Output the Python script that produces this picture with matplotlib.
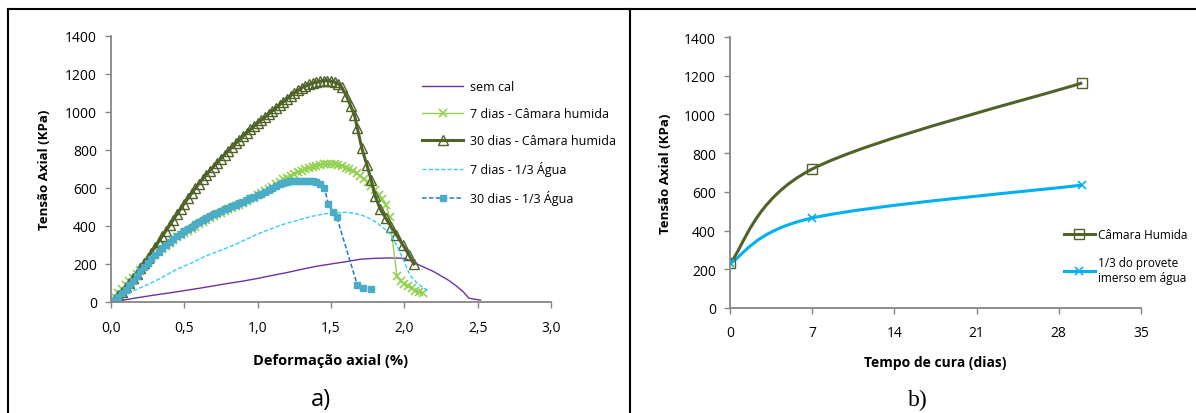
import matplotlib
matplotlib.use("Agg")
import matplotlib.pyplot as plt
import numpy as np
from matplotlib.lines import Line2D
from matplotlib.path import Path
from matplotlib.patches import PathPatch

plt.rcParams['font.family'] = ['Open Sans', 'DejaVu Sans']

# ---------------- a) tensão x deformação ----------------
sem_cal_x = [0, 0.1, 0.2, 0.3, 0.4, 0.5, 0.6, 0.7, 0.8, 0.9, 1.0, 1.1, 1.2, 1.3, 1.4,
             1.5, 1.6, 1.7, 1.8, 1.9, 2.0, 2.05, 2.1, 2.2, 2.3, 2.35, 2.4, 2.44, 2.5, 2.52]
sem_cal_y = [0, 12, 25, 37, 48, 60, 72, 85, 98, 110, 124, 140, 155, 172, 188,
             200, 212, 225, 230, 232, 230, 215, 195, 160, 115, 87, 55, 20, 12, 10]

ch7_x = [0.0, 0.025, 0.05, 0.075, 0.1, 0.125, 0.15, 0.175, 0.2, 0.225, 0.25, 0.275, 0.3,
         0.325, 0.35, 0.375, 0.4, 0.425, 0.45, 0.475, 0.5, 0.525, 0.55, 0.575, 0.6, 0.625,
         0.65, 0.675, 0.7, 0.725, 0.75, 0.775, 0.8, 0.825, 0.85, 0.875, 0.9, 0.925, 0.95,
         0.975, 1.0, 1.025, 1.05, 1.075, 1.1, 1.125, 1.15, 1.175, 1.2, 1.225, 1.25, 1.275,
         1.3, 1.325, 1.35, 1.375, 1.4, 1.425, 1.45, 1.475, 1.5, 1.525, 1.55, 1.575, 1.6,
         1.625, 1.65, 1.675, 1.7, 1.725, 1.75, 1.775, 1.8, 1.825, 1.85, 1.875, 1.9,
         1.95, 1.975, 2.0, 2.025, 2.05, 2.075, 2.1, 2.125]
ch7_y = [0, 25, 48, 70, 90, 108, 127, 145, 168, 186, 205, 224, 245,
         263, 280, 296, 311, 326, 340, 353, 364, 375, 385, 396, 408, 420,
         432, 443, 453, 462, 471, 479, 487, 495, 503, 511, 521, 530, 540,
         550, 562, 572, 582, 593, 605, 620, 633, 645, 655, 665, 673, 683,
         692, 700, 707, 713, 718, 722, 725, 726, 726, 724, 720, 714, 706,
         698, 689, 678, 665, 650, 633, 612, 590, 565, 540, 510, 445,
         135, 110, 95, 85, 72, 60, 52, 45]

ch30_x = [0.0, 0.025, 0.05, 0.075, 0.1, 0.125, 0.15, 0.175, 0.2, 0.225, 0.25, 0.275, 0.3,
          0.325, 0.35, 0.375, 0.4, 0.425, 0.45, 0.475, 0.5, 0.525, 0.55, 0.575, 0.6, 0.625,
          0.65, 0.675, 0.7, 0.725, 0.75, 0.775, 0.8, 0.825, 0.85, 0.875, 0.9, 0.925, 0.95,
          0.975, 1.0, 1.025, 1.05, 1.075, 1.1, 1.125, 1.15, 1.175, 1.2, 1.225, 1.25, 1.275,
          1.3, 1.325, 1.35, 1.375, 1.4, 1.425, 1.45, 1.475, 1.5, 1.525, 1.55,
          1.573, 1.605, 1.635, 1.66, 1.68, 1.71, 1.745, 1.775, 1.8, 1.835, 1.875, 1.91,
          1.945, 1.99, 2.03, 2.065]
ch30_y = [0, 15, 35, 55, 78, 100, 125, 150, 178, 205, 232, 260, 290,
          318, 347, 375, 404, 433, 462, 490, 518, 545, 572, 598, 623, 647,
          670, 692, 713, 734, 755, 776, 796, 815, 835, 854, 873, 891, 908,
          925, 942, 958, 974, 990, 1006, 1022, 1038, 1054, 1070, 1085, 1100, 1114,
          1127, 1137, 1145, 1152, 1158, 1162, 1165, 1165, 1163, 1158, 1148,
          1130, 1085, 1030, 985, 914, 810, 720, 640, 560, 490, 440, 395,
          355, 300, 250, 200]

ag7_x = [0, 0.05, 0.1, 0.15, 0.2, 0.25, 0.3, 0.35, 0.4, 0.45, 0.5, 0.55, 0.6, 0.65, 0.7,
         0.75, 0.8, 0.85, 0.9, 0.95, 1.0, 1.05, 1.1, 1.15, 1.2, 1.25, 1.3, 1.35, 1.4, 1.45,
         1.5, 1.55, 1.6, 1.65, 1.7, 1.75, 1.8, 1.85, 1.9, 1.95, 2.0, 2.04, 2.08, 2.12, 2.17]
ag7_y = [0, 20, 40, 58, 75, 92, 110, 130, 152, 172, 190, 205, 225, 243, 258,
         272, 288, 303, 322, 340, 358, 373, 387, 402, 415, 425, 436, 447, 456, 463,
         468, 471, 472, 468, 460, 445, 424, 395, 360, 296, 209, 140, 105, 80, 54]

ag30_x = [0.0, 0.025, 0.05, 0.075, 0.1, 0.125, 0.15, 0.175, 0.2, 0.225, 0.25, 0.275, 0.3,
          0.325, 0.35, 0.375, 0.4, 0.425, 0.45, 0.475, 0.5, 0.525, 0.55, 0.575, 0.6, 0.625,
          0.65, 0.675, 0.7, 0.725, 0.75, 0.775, 0.8, 0.825, 0.85, 0.875, 0.9, 0.925, 0.95,
          0.975, 1.0, 1.025, 1.05, 1.075, 1.1, 1.125, 1.15, 1.175, 1.2, 1.225, 1.25, 1.275,
          1.3, 1.325, 1.35, 1.375, 1.4, 1.425, 1.455, 1.482, 1.513, 1.54, 1.68, 1.72, 1.77]
ag30_y = [0, 12, 28, 45, 65, 88, 110, 135, 162, 185, 205, 225, 245,
          265, 283, 300, 316, 331, 345, 359, 372, 385, 397, 409, 420, 431,
          441, 451, 461, 470, 479, 488, 496, 504, 512, 520, 528, 536, 545,
          553, 562, 571, 580, 589, 600, 610, 620, 627, 632, 635, 637, 638,
          638, 638, 637, 635, 630, 620, 600, 516, 472, 445, 88, 73, 66]

xticks_a = [0, 0.5, 1.0, 1.5, 2.0, 2.5, 3.0]
xticklabels_a = ['0,0', '0,5', '1,0', '1,5', '2,0', '2,5', '3,0']
yticks = [0, 200, 400, 600, 800, 1000, 1200, 1400]

# ---------------- b) tensão x tempo de cura ----------------
dias = [0, 7, 30]
camara = [230, 718, 1163]
imerso = [230, 465, 635]
xticks_b = [0, 7, 14, 21, 28, 35]

W, H = 1196, 414
fig = plt.figure(figsize=(W / 100, H / 100), dpi=100)

def setup(ax, xlabel, ylabel, xsize, xpad, ypad):
    for s in ['top', 'right']:
        ax.spines[s].set_visible(False)
    for s in ['left', 'bottom']:
        ax.spines[s].set_color('#868686')
        ax.spines[s].set_linewidth(1.3)
    ax.tick_params(direction='out', length=4, width=1, color='#868686', labelsize=10)
    ax.set_yticks(yticks)
    ax.set_ylim(0, 1400)
    ax.set_xlabel(xlabel, fontsize=xsize, fontweight='bold', labelpad=xpad)
    ax.set_ylabel(ylabel, fontsize=9.5, fontweight='bold', labelpad=ypad)

ax1 = fig.add_axes([111 / W, 1 - 303 / H, 440 / W, 266 / H])
ax1.plot(sem_cal_x, sem_cal_y, color='#7030A0', lw=1, label='sem cal')
ax1.plot(ch7_x, ch7_y, color='#92D050', lw=1, marker='x', ms=6, mew=1.2,
         label='7 dias - Câmara humida')
ax1.plot(ch30_x, ch30_y, color='#4F6228', lw=2.2, marker='^', ms=6.5, mew=1,
         mfc='none', mec='#4F6228', label='30 dias - Câmara humida')
ax1.plot(ag7_x, ag7_y, color='#33CCFF', lw=1, ls=(0, (3, 1.5)),
         label='7 dias - 1/3 Água')
ax1.plot(ag30_x, ag30_y, color='#1F7BC8', lw=1.1, ls=(0, (3, 1.5)), marker='s', ms=4,
         mfc='#4BACC6', mec='#4BACC6', label='30 dias - 1/3 Água')
ax1.set_xlim(0, 3)
ax1.set_xticks(xticks_a)
ax1.set_xticklabels(xticklabels_a)
setup(ax1, 'Deformação axial (%)', 'Tensão Axial (KPa)', 10.5, 13, 10)
ax1.tick_params(axis='x', pad=9)
ax1.tick_params(axis='y', pad=6)
ax1.legend(loc='upper left', bbox_to_anchor=(422 / W, 1 - 81 / H),
           bbox_transform=fig.transFigure, frameon=False, fontsize=9,
           handlelength=3.3, handletextpad=0.55, labelspacing=1.12,
           borderpad=0, borderaxespad=0, numpoints=1)

ax2 = fig.add_axes([730 / W, 1 - 309 / H, 411 / W, 271 / H])

def smooth(ax, xs, ys, color, lw):
    # Excel-like smoothed line: cubic Bezier through each point
    pts = np.column_stack([xs, ys]).astype(float)
    n = len(pts)
    verts = [pts[0]]
    codes = [Path.MOVETO]
    for i in range(n - 1):
        p0 = pts[i - 1] if i > 0 else pts[i]
        p1, p2 = pts[i], pts[i + 1]
        p3 = pts[i + 2] if i + 2 < n else pts[i + 1]
        verts += [p1 + (p2 - p0) / 6, p2 - (p3 - p1) / 6, p2]
        codes += [Path.CURVE4] * 3
    ax.add_patch(PathPatch(Path(verts, codes), fill=False, edgecolor=color, lw=lw))

smooth(ax2, dias, camara, '#4F6228', 2.2)
smooth(ax2, dias, imerso, '#00B0F0', 2.2)
ax2.plot(dias, camara, ls='none', marker='s', ms=7, mfc='none', mec='#4F6228', mew=1)
ax2.plot(dias, imerso, ls='none', marker='x', ms=6, mec='#00B0F0', mew=1.2)
h1 = Line2D([], [], color='#4F6228', lw=2.2, marker='s', ms=7, mfc='none', mew=1)
h2 = Line2D([], [], color='#00B0F0', lw=2.2, marker='x', ms=6, mew=1.2)
ax2.legend([h1, h2], ['Câmara Humida', '1/3 do provete\nimerso em água'],
           loc='upper left', bbox_to_anchor=(1064 / W, 1 - 229 / H),
           bbox_transform=fig.transFigure, frameon=False, fontsize=8.5,
           handlelength=2.6, handletextpad=0.3, labelspacing=1.3,
           borderpad=0, borderaxespad=0, numpoints=1)
ax2.set_xlim(0, 35)
ax2.set_xticks(xticks_b)
setup(ax2, 'Tempo de cura (dias)', 'Tensão Axial (KPa)', 10, 11, 9)
ax2.tick_params(axis='x', pad=8)
ax2.tick_params(axis='y', pad=6)

# moldura
fig.add_artist(Line2D([8 / W, 1], [1 - 10 / H, 1 - 10 / H], color='black', lw=1.5))
fig.add_artist(Line2D([8 / W, 8 / W], [0, 1 - 10 / H], color='black', lw=1.5))
fig.add_artist(Line2D([630 / W, 630 / W], [0, 1 - 10 / H], color='black', lw=1.5))

fig.text(321 / W, 1 - 400 / H, 'a)', fontsize=17, ha='center', va='center')
fig.text(918 / W, 1 - 400 / H, 'b)', fontsize=17, ha='center', va='center',
         family='Liberation Serif')

fig.savefig('out.png', dpi=100)
